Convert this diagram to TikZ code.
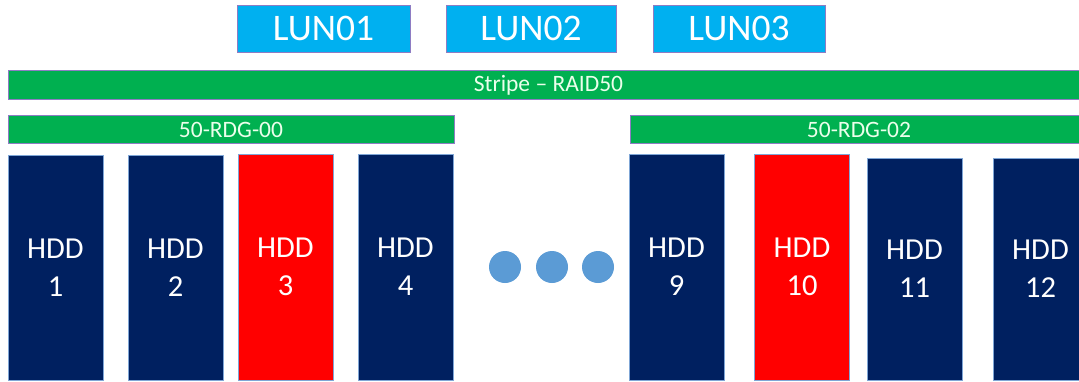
\documentclass[tikz,border=0pt]{standalone}
\usepackage{fontspec}
\setmainfont{Carlito}
\definecolor{lunblue}{HTML}{00B0F0}
\definecolor{lunedge}{HTML}{8E7CC3}
\definecolor{bargreen}{HTML}{00B050}
\definecolor{hddnavy}{HTML}{002060}
\definecolor{hddedge}{HTML}{7FA6D6}
\definecolor{hddred}{HTML}{FF0000}
\definecolor{dotblue}{HTML}{5B9BD5}
\tikzset{
  lunbox/.style={draw=lunedge, line width=0.7pt, fill=lunblue, text=white,
    inner sep=0pt, outer sep=0pt, minimum width=173pt, minimum height=47pt,
    font=\fontsize{37.5}{42}\selectfont},
  barbox/.style={draw=lunedge, line width=0.7pt, fill=bargreen, text=white!92!green,
    inner sep=0pt, outer sep=0pt, minimum height=28.5pt,
    font=\fontsize{23.5}{26}\selectfont},
  hddbox/.style={draw=hddedge, line width=0.7pt, fill=hddnavy, text=white,
    inner sep=0pt, outer sep=0pt, minimum width=95pt, align=center,
    font=\fontsize{30.5}{38}\selectfont},
  faulty/.style={fill=hddred},
  dotmark/.style={circle, fill=dotblue, draw=none, minimum size=32pt, inner sep=0pt}
}
\begin{document}
\begin{tikzpicture}[x=1pt,y=-1pt]
\useasboundingbox (0,0) rectangle (1079,381);
% LUNs
\node[lunbox] (lun1) at (323.5,28.5) {LUN01};
\node[lunbox, minimum width=170pt] (lun2) at (531,28.5) {LUN02};
\node[lunbox, minimum width=172pt] (lun3) at (739,28.5) {LUN03};
% stripe bars
\node[barbox, minimum width=1081pt] (stripe) at (548.5,85) {Stripe – RAID50};
\node[barbox, minimum width=446pt] (rdg0) at (231,129.5) {50-RDG-00};
\node[barbox, minimum width=458pt] (rdg2) at (859,129.5) {50-RDG-02};
% HDDs
\node[hddbox, minimum height=225pt] (h1) at (55.5,267.5) {HDD\\1};
\node[hddbox, minimum height=225pt] (h2) at (175.5,267.5) {HDD\\2};
\node[hddbox, faulty, minimum height=226pt] (h3) at (285.5,267) {HDD\\3};
\node[hddbox, minimum height=226pt] (h4) at (405.5,267) {HDD\\4};
\node[hddbox, minimum height=226pt] (h9) at (676.5,267) {HDD\\9};
\node[hddbox, faulty, minimum height=226pt] (h10) at (802,267) {HDD\\10};
\node[hddbox, minimum height=222pt] (h11) at (914.5,269) {HDD\\11};
\node[hddbox, minimum height=222pt] (h12) at (1040.5,269) {HDD\\12};
% ellipsis dots
\node[dotmark] (d1) at (505,267) {};
\node[dotmark] (d2) at (552,267) {};
\node[dotmark] (d3) at (598,267) {};
\end{tikzpicture}
\end{document}
